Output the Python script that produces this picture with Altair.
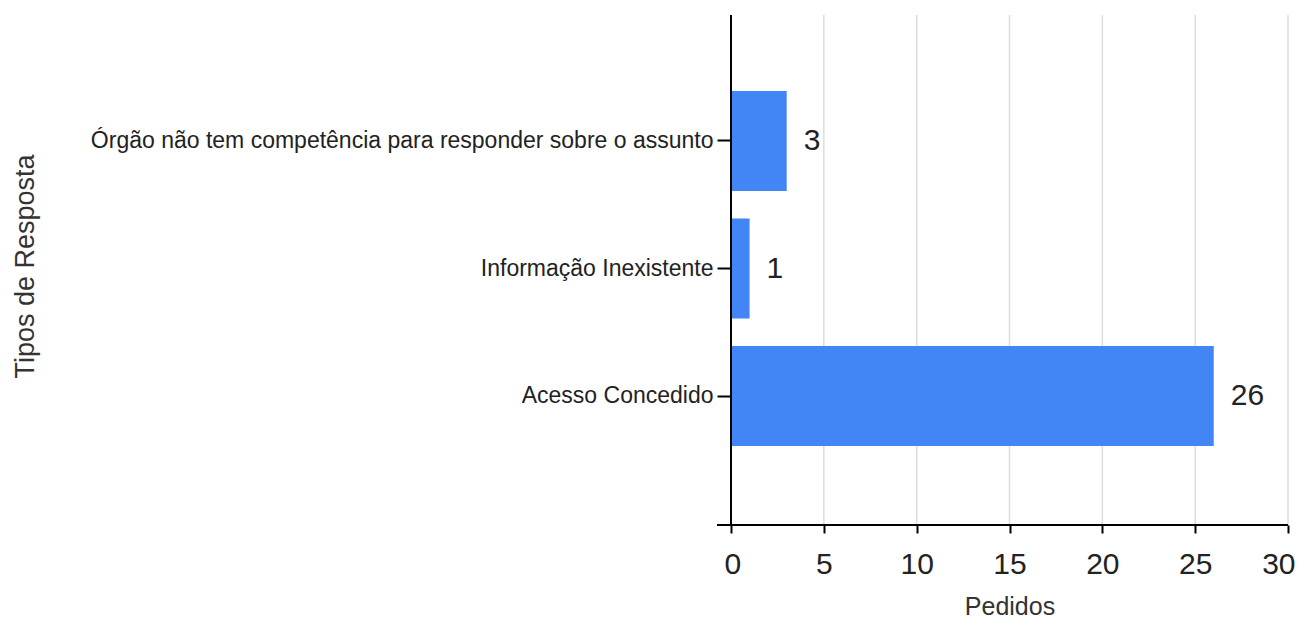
import altair as alt
import pandas as pd

categories = [
    "Órgão não tem competência para responder sobre o assunto",
    "Informação Inexistente",
    "Acesso Concedido",
]
pedidos = [3, 1, 26]
x_ticks = [0, 5, 10, 15, 20, 25, 30]

df = pd.DataFrame({"tipo": categories, "pedidos": pedidos})
grid_df = pd.DataFrame({"pedidos": x_ticks})
one = pd.DataFrame({"k": [0]})

W, H = 557, 510
SANS = "Liberation Sans, Arial, sans-serif"

y_enc = alt.Y(
    "tipo:N",
    sort=categories,
    scale=alt.Scale(range=[76, 431], paddingInner=0.216, paddingOuter=0),
    axis=alt.Axis(
        title="Tipos de Resposta",
        domain=False,
        ticks=True,
        tickSize=14,
        tickColor="black",
        tickWidth=2,
        grid=False,
        labelFont=SANS,
        labelFontSize=23,
        labelColor="#222222",
        labelPadding=4,
        labelLimit=0,
        titleFont=SANS,
        titleFontSize=27,
        titleFontWeight="normal",
        titleColor="#333333",
        titleAngle=270,
        titleX=-706,
        titleY=251,
        titleAlign="center",
        titleBaseline="middle",
    ),
)

x_enc = alt.X(
    "pedidos:Q",
    scale=alt.Scale(domain=[0, 30], nice=False),
    axis=alt.Axis(
        values=x_ticks,
        title="Pedidos",
        domain=False,
        tickSize=8,
        tickColor="black",
        tickWidth=2,
        grid=False,
        labelFont=SANS,
        labelFontSize=30,
        labelColor="#222222",
        labelBaseline="alphabetic",
        labelPadding=40,
        labelFlush=True,
        labelFlushOffset=7,
        labelOverlap=False,
        titleFont=SANS,
        titleFontSize=25,
        titleFontWeight="normal",
        titleColor="#333333",
        titleBaseline="alphabetic",
        titleY=89,
    ),
)

grid = alt.Chart(grid_df).mark_rule(color="#dddddd", strokeWidth=1.5).encode(
    x=alt.X("pedidos:Q", title="Pedidos"), y=alt.value(0), y2=alt.value(H)
)

bars = alt.Chart(df).mark_bar(color="#4285f4").encode(x=x_enc, y=y_enc)

labels = alt.Chart(df).mark_text(
    align="left", baseline="middle", dx=17, font=SANS, fontSize=30, color="#222222"
).encode(x="pedidos:Q", y=alt.Y("tipo:N", sort=categories), text="pedidos:Q")

y_line = alt.Chart(one).mark_rule(color="black", strokeWidth=2).encode(
    x=alt.value(0), y=alt.value(0), y2=alt.value(H)
)
x_line = alt.Chart(one).mark_rule(color="black", strokeWidth=2).encode(
    x=alt.value(-14), x2=alt.value(W), y=alt.value(H)
)

chart = (
    alt.layer(grid, bars, labels, y_line, x_line)
    .properties(
        width=W,
        height=H,
        autosize="none",
        padding={"left": 723, "top": 7, "right": 8, "bottom": 94},
    )
    .configure_view(stroke=None)
)

chart.save("out.html", embed_options={"renderer": "svg", "actions": False})
